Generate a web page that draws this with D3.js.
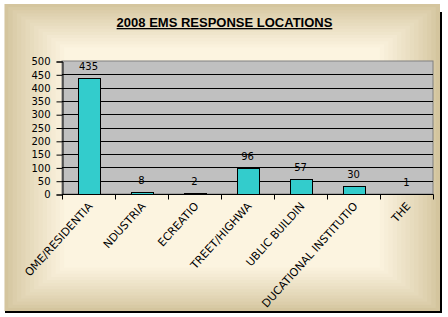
<!DOCTYPE html>
<html><head><meta charset="utf-8">
<script src="https://cdn.jsdelivr.net/npm/d3@7"></script>
<style>body{margin:0;background:#fff}svg{display:block}</style></head>
<body><svg id="c" width="448" height="317"></svg>
<script>
const categories = ["OME/RESIDENTIA", "NDUSTRIA", "ECREATIO", "TREET/HIGHWA", "UBLIC BUILDIN", "DUCATIONAL INSTITUTIO", "THE"];
const values = [435, 8, 2, 96, 57, 30, 1];
const yTicks = [0, 50, 100, 150, 200, 250, 300, 350, 400, 450, 500];
const title = "2008 EMS RESPONSE LOCATIONS";

const svg = d3.select("#c");
const frame = {x: 4, y: 4, w: 436, h: 307};

// background gradient bands
const N = 14, sx = 4.3, sy = 3.1;
const cEdge = d3.rgb(212, 197, 158), cCenter = d3.rgb(252, 244, 224);
const interp = d3.interpolateRgb(cEdge, cCenter);
for (let i = 0; i <= N; i++) {
  const t = Math.pow(i / N, 0.85);
  svg.append("rect")
    .attr("x", frame.x + i * sx).attr("y", frame.y + i * sy)
    .attr("width", frame.w - 2 * i * sx).attr("height", frame.h - 2 * i * sy)
    .attr("fill", interp(t));
}
// shadow / border
svg.append("rect").attr("x", frame.x + frame.w).attr("y", frame.y + 8).attr("width", 2).attr("height", frame.h - 6).attr("fill", "#000");
svg.append("rect").attr("x", frame.x + 1).attr("y", frame.y + frame.h).attr("width", frame.w + 1).attr("height", 2).attr("fill", "#000");
svg.append("line").attr("x1", frame.x + 0.5).attr("x2", frame.x + 0.5).attr("y1", frame.y).attr("y2", frame.y + frame.h).attr("stroke", "#e8e0cc");

// title
svg.append("text").attr("x", 224.5).attr("y", 27).attr("text-anchor", "middle")
  .attr("font-family", "Liberation Sans, Arial, sans-serif").attr("font-weight", "bold").attr("font-size", 13)
  .attr("fill", "#000").attr("text-decoration", "underline").text(title);

// scales
const plot = {l: 62, r: 433, t: 61, b: 194};
const x = d3.scaleBand().domain(categories).range([plot.l, plot.r]).padding(0);
const y = d3.scaleLinear().domain([0, 500]).range([plot.b, plot.t]);

// plot area
svg.append("rect").attr("x", plot.l).attr("y", plot.t).attr("width", plot.r - plot.l).attr("height", plot.b - plot.t)
  .attr("fill", "#c0c0c0").attr("stroke", "#808080").attr("stroke-width", 1);

// gridlines
svg.append("g").selectAll("line").data(yTicks.filter(d => d > 0 && d < 500)).join("line")
  .attr("x1", plot.l).attr("x2", plot.r)
  .attr("y1", d => Math.round(y(d)) + 0.5).attr("y2", d => Math.round(y(d)) + 0.5)
  .attr("stroke", "#000").attr("stroke-width", 1);

// bars
const bw = 22;
svg.append("g").selectAll("rect").data(values).join("rect")
  .attr("x", (d, i) => Math.round(x(categories[i]) + x.bandwidth() / 2 - bw / 2) + 0.5)
  .attr("y", d => Math.round(y(d)) + 0.5)
  .attr("width", bw)
  .attr("height", d => Math.max(0, Math.round(y(0)) - Math.round(y(d))))
  .attr("fill", "#33cccc").attr("stroke", "#000").attr("stroke-width", 1);

// data labels
svg.append("g").selectAll("text").data(values).join("text")
  .attr("x", (d, i) => x(categories[i]) + x.bandwidth() / 2)
  .attr("y", d => y(d) - 8)
  .attr("text-anchor", "middle")
  .attr("font-family", "DejaVu Sans, sans-serif").attr("font-size", 10).attr("fill", "#000")
  .text(d => d);

// y axis
const yAxis = d3.axisLeft(y).tickValues(yTicks).tickSize(6).tickPadding(6);
const gy = svg.append("g").attr("transform", `translate(${plot.l + 0.5},0.5)`).call(yAxis);
gy.select(".domain").attr("stroke", "#000");
gy.selectAll(".tick line").attr("stroke", "#000");
gy.selectAll("text").attr("font-family", "DejaVu Sans, sans-serif").attr("font-size", 10).attr("fill", "#000");

// x axis with ticks at category boundaries
const gx = svg.append("g").attr("transform", `translate(0,${plot.b + 0.5})`);
gx.append("line").attr("x1", plot.l).attr("x2", plot.r + 0.5).attr("y1", 0).attr("y2", 0).attr("stroke", "#000");
const bounds = categories.map(c => x(c)).concat([plot.r]);
gx.selectAll("line.t").data(bounds).join("line").attr("class", "t")
  .attr("x1", d => Math.round(d) + 0.5).attr("x2", d => Math.round(d) + 0.5)
  .attr("y1", 0).attr("y2", 5).attr("stroke", "#000");
gx.selectAll("text").data(categories).join("text")
  .attr("transform", d => `translate(${x(d) + x.bandwidth() / 2 - 1},${7}) rotate(-48)`)
  .attr("text-anchor", "end").attr("dy", "0.7em")
  .attr("font-family", "DejaVu Sans, sans-serif").attr("font-size", 11).attr("fill", "#000")
  .text(d => d);
</script>
</body></html>
